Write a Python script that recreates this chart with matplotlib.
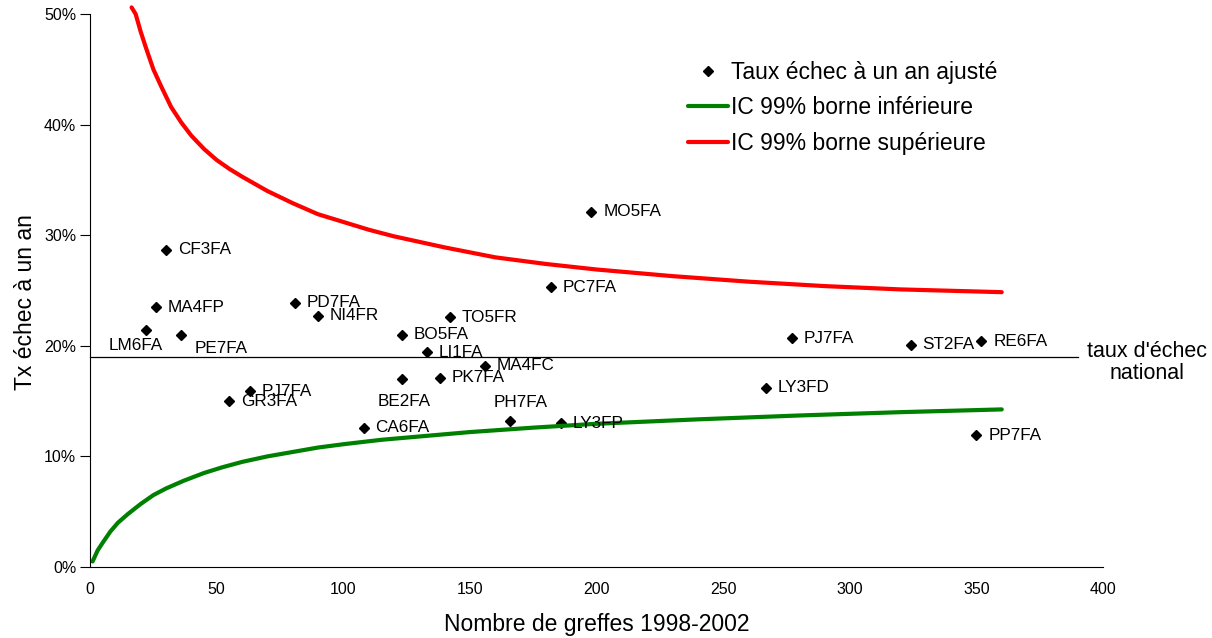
import numpy as np
import matplotlib
matplotlib.use("Agg")
import matplotlib.pyplot as plt
from matplotlib.ticker import FuncFormatter

plt.rcParams['font.family'] = ['Liberation Sans', 'DejaVu Sans']

# centres : nombre de greffes, taux d'echec ajuste (%)
centres = ["CF3FA", "MA4FP", "LM6FA", "PE7FA", "PD7FA", "NI4FR", "PJ7FA", "GR3FA",
           "MO5FA", "PC7FA", "TO5FR", "BO5FA", "LI1FA", "MA4FC", "PK7FA", "BE2FA",
           "PH7FA", "LY3FP", "CA6FA", "PJ7FA", "LY3FD", "ST2FA", "RE6FA", "PP7FA"]
greffes = [30, 26, 22, 36, 81, 90, 63, 55,
           198, 182, 142, 123, 133, 156, 138, 123,
           166, 186, 108, 277, 267, 324, 352, 350]
taux = [28.7, 23.5, 21.4, 21.0, 23.9, 22.7, 15.9, 15.0,
        32.1, 25.3, 22.6, 21.0, 19.4, 18.2, 17.1, 17.0,
        13.2, 13.0, 12.6, 20.7, 16.2, 20.1, 20.4, 11.9]

# bornes IC 99%
sup_x = [16.4, 18, 20, 22, 25, 28, 32, 36, 40, 45, 50, 55, 60, 70, 80, 90, 100,
         110, 120, 140, 160, 180, 200, 230, 260, 290, 320, 360]
sup_y = [50.6, 50.0, 48.4, 47.0, 45.0, 43.5, 41.6, 40.2, 39.0, 37.8, 36.8, 36.0,
         35.3, 34.0, 32.9, 31.9, 31.2, 30.5, 29.9, 28.9, 28.0, 27.4, 26.9, 26.3,
         25.8, 25.4, 25.1, 24.85]
inf_x = [1, 3, 5, 8, 11, 15, 20, 25, 30, 37, 45, 52, 60, 70, 80, 90, 100, 115,
         130, 150, 175, 200, 240, 280, 320, 360]
inf_y = [0.5, 1.5, 2.2, 3.2, 4.0, 4.8, 5.7, 6.5, 7.1, 7.8, 8.5, 9.0, 9.5, 10.0,
         10.4, 10.8, 11.1, 11.5, 11.8, 12.2, 12.6, 12.95, 13.35, 13.7, 14.0, 14.25]

taux_national = 18.95

# decalage des etiquettes (points), par defaut a droite
decal = {2: ((12, -11), 'right'), 3: ((9.5, -10), 'left'),
         15: ((1.5, -16), 'center'), 16: ((7, 13.5), 'center')}

fig = plt.figure(figsize=(12.12, 6.38), dpi=100)
ax = fig.add_axes([0.0743, 0.1113, 0.8358, 0.8667])

ax.plot(greffes, taux, "kD", markersize=5.5, linestyle="none",
        label="Taux échec à un an ajusté")
ax.plot(inf_x, inf_y, color="#008000", lw=3, label="IC 99% borne inférieure",
        solid_capstyle="round", solid_joinstyle="round")
ax.plot(sup_x, sup_y, color="#ff0000", lw=3, label="IC 99% borne supérieure",
        clip_on=False, solid_capstyle="round", solid_joinstyle="round")
ax.plot([0, 390], [taux_national, taux_national], color="black", lw=0.9, clip_on=False)

for i in range(len(centres)):
    off, ha = decal.get(i, ((8.5, 0), 'left'))
    ax.annotate(centres[i], (greffes[i], taux[i]), xytext=off,
                textcoords="offset points", ha=ha, va="center", fontsize=12.3)

ax.text(417.5, 18.5, "taux d'échec\nnational", ha="center", va="center",
        fontsize=15.5, clip_on=False, linespacing=1.1)

ax.set_xlim(0, 400)
ax.set_ylim(0, 50)
ax.set_xticks(np.arange(0, 401, 50))
ax.set_yticks(np.arange(0, 51, 10))
ax.yaxis.set_major_formatter(FuncFormatter(lambda v, p: f"{v:.0f}%"))
ax.tick_params(axis="x", length=0, pad=11, labelsize=11.5)
ax.tick_params(axis="y", length=7, width=0.8, direction="out", pad=3, labelsize=11.5)
for s in ["top", "right"]:
    ax.spines[s].set_visible(False)

ax.set_xlabel("Nombre de greffes 1998-2002", fontsize=16.5)
ax.xaxis.set_label_coords(0.5, -0.083)
ax.set_ylabel("Tx échec à un an", fontsize=16.5)
ax.yaxis.set_label_coords(-0.052, 0.48)

leg = ax.legend(loc="upper left", bbox_to_anchor=(0.5677, 0.905), bbox_transform=fig.transFigure,
                frameon=False, fontsize=16.5, handlelength=1.75, handletextpad=0.13,
                labelspacing=0.55, borderpad=0, borderaxespad=0)

fig.savefig("out.png", dpi=100)
